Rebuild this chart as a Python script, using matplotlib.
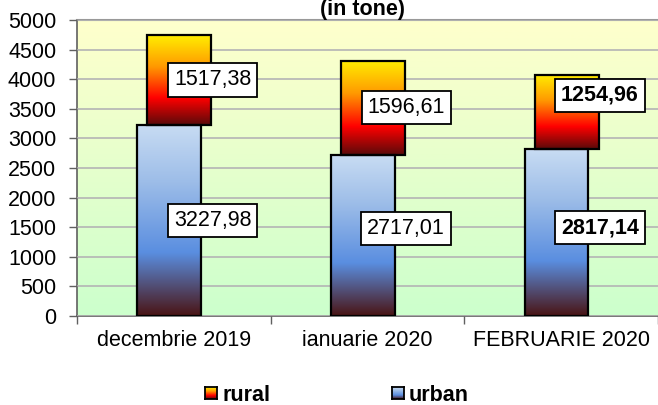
import numpy as np
import matplotlib
matplotlib.use('Agg')
import matplotlib.pyplot as plt
from matplotlib.colors import LinearSegmentedColormap

# date: cantitati in tone
luni = ['decembrie 2019', 'ianuarie 2020', 'FEBRUARIE 2020']
urban = [3227.98, 2717.01, 2817.14]
rural = [1517.38, 1596.61, 1254.96]
etichete_urban = ['3227,98', '2717,01', '2817,14']
etichete_rural = ['1517,38', '1596,61', '1254,96']
bold_luna = [False, False, True]
# mici deplasari ale etichetelor (pixeli, in sus), ca in original
nudge_urban = [0, 7, 5]
nudge_rural = [0, 0, 17]

plt.rcParams['font.family'] = ['Liberation Sans', 'DejaVu Sans']
FS = 15.5

cmap_rural = LinearSegmentedColormap.from_list(
    'rural', [(0.0, '#5a0a0a'), (0.3, '#ff0000'), (0.65, '#ff9900'), (1.0, '#ffee00')])
cmap_urban = LinearSegmentedColormap.from_list(
    'urban', [(0.0, '#4a1414'), (0.33, '#5a8ee0'), (0.7, '#9dbde8'), (1.0, '#c8dcf3')])
cmap_fundal = LinearSegmentedColormap.from_list('fundal', ['#ccffcc', '#ffffcc'])

grad = np.linspace(0, 1, 256).reshape(-1, 1)


def bara_gradient(ax, x, bottom, h, w, cmap):
    ax.imshow(grad, cmap=cmap, origin='lower', aspect='auto',
              extent=(x - w / 2, x + w / 2, bottom, bottom + h), zorder=3)
    ax.bar(x, h, w, bottom=bottom, facecolor='none', edgecolor='black',
           linewidth=1.6, zorder=4)


fig = plt.figure(figsize=(6.58, 4.05), dpi=100)
ax = fig.add_axes([77 / 658, 89 / 405, 581 / 658, 296 / 405])

# fundal in gradient galben -> verde
ax.imshow(grad, cmap=cmap_fundal, origin='lower', aspect='auto',
          extent=(0, 1, 0, 1), transform=ax.transAxes, zorder=0)

w = 0.33
x = np.arange(len(luni))
for i in range(len(luni)):
    bara_gradient(ax, x[i] - 0.024, 0, urban[i], w, cmap_urban)
    bara_gradient(ax, x[i] + 0.028, urban[i], rural[i], w, cmap_rural)
    fw = 'bold' if bold_luna[i] else 'normal'
    for y, txt, dy in [(urban[i] / 2, etichete_urban[i], nudge_urban[i]),
                       (urban[i] + rural[i] / 2, etichete_rural[i], nudge_rural[i])]:
        ax.annotate(txt, (x[i] + 0.2, y), xytext=(0, dy * 0.72),
                    textcoords='offset points', ha='center', va='center',
                    fontsize=FS, fontweight=fw, zorder=6,
                    bbox=dict(boxstyle='square,pad=0.28', fc='white',
                              ec='black', lw=1.3))

ax.set_xlim(-0.5, 2.5)
ax.set_ylim(0, 5000)
ax.set_yticks(np.arange(0, 5001, 500))
ax.yaxis.grid(True, color='#b4b4b4', linewidth=1.2)
ax.set_axisbelow(False)
for gl in ax.get_ygridlines():
    gl.set_zorder(1)
ax.tick_params(axis='y', labelsize=FS, length=6, width=1, color='#606060', pad=9)
ax.set_xticks(x)
ax.set_xticklabels(luni, fontsize=FS)
ax.set_xticks([-0.5, 0.5, 1.5, 2.5], minor=True)
ax.tick_params(axis='x', which='major', length=0, pad=10)
ax.tick_params(axis='x', which='minor', length=6, width=1, color='#606060')
for s in ['left', 'bottom']:
    ax.spines[s].set_color('#606060')
    ax.spines[s].set_linewidth(1.2)
ax.spines['top'].set_color('#999999')
ax.spines['top'].set_linewidth(1.5)
ax.spines['right'].set_visible(False)

fig.text(362 / 658, 1 - 15 / 405, '(in tone)', ha='center', va='baseline',
         fontsize=FS, fontweight='bold')

# legenda
for x0, cm, nume in [(205, cmap_rural, 'rural'), (392, cmap_urban, 'urban')]:
    lax = fig.add_axes([x0 / 658, 6 / 405, 12 / 658, 12 / 405])
    lax.imshow(grad, cmap=cm, origin='lower', aspect='auto')
    lax.set_xticks([])
    lax.set_yticks([])
    for s in lax.spines.values():
        s.set_linewidth(1.3)
    fig.text((x0 + 17) / 658, 1 - 401 / 405, nume, ha='left', va='baseline',
             fontsize=FS, fontweight='bold')

fig.savefig('out.png', dpi=100)
